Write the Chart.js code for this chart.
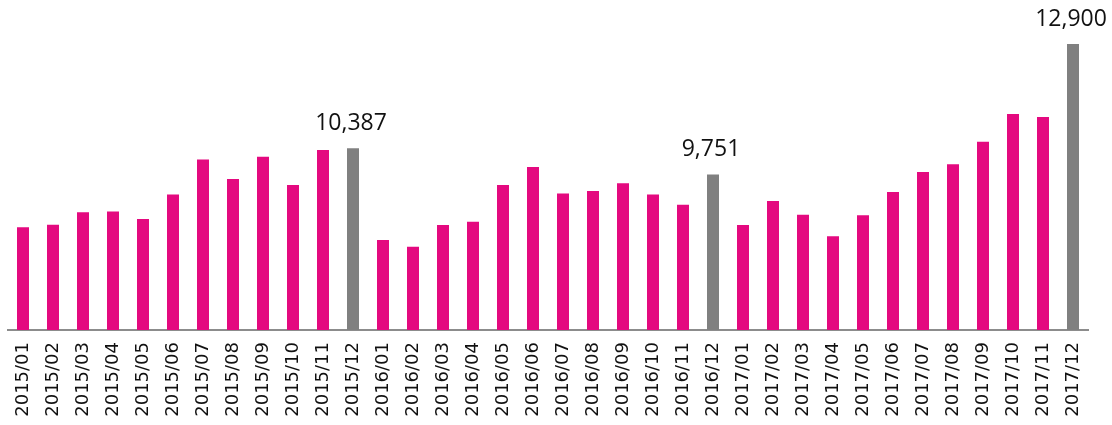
<!DOCTYPE html>
<html lang="en">
<head>
    <meta charset="UTF-8">
    <title>Monthly Bars</title>
    <script src="https://cdn.jsdelivr.net/npm/chart.js"></script>
    <style>
        html, body {
            margin: 0;
            padding: 0;
            background: white;
        }
        #wrap {
            width: 1112px;
            height: 425px;
        }
    </style>
</head>
<body>
    <div id="wrap"><canvas id="barChart"></canvas></div>
    <script>
        // months shown on the x axis
        var months = [
            '2015/01', '2015/02', '2015/03', '2015/04', '2015/05', '2015/06',
            '2015/07', '2015/08', '2015/09', '2015/10', '2015/11', '2015/12',
            '2016/01', '2016/02', '2016/03', '2016/04', '2016/05', '2016/06',
            '2016/07', '2016/08', '2016/09', '2016/10', '2016/11', '2016/12',
            '2017/01', '2017/02', '2017/03', '2017/04', '2017/05', '2017/06',
            '2017/07', '2017/08', '2017/09', '2017/10', '2017/11', '2017/12'
        ];

        // values (december values are printed)
        var values2015 = [8480, 8540, 8840, 8860, 8680, 9270, 10110, 9640, 10180, 9500, 10340, 10387];
        var values2016 = [8170, 8010, 8530, 8610, 9500, 9930, 9290, 9350, 9540, 9270, 9020, 9751];
        var values2017 = [8530, 9110, 8780, 8260, 8770, 9330, 9810, 10000, 10540, 11210, 11140, 12900];

        var values = values2015.concat(values2016, values2017);

        var pink = '#E4097F';
        var grey = '#808080';

        var barColors = months.map(function (m) {
            return m.slice(-2) === '12' ? grey : pink;
        });

        // prints the value above the december bars
        var yearEndLabels = {
            id: 'yearEndLabels',
            afterDatasetsDraw: function (chart) {
                var ctx = chart.ctx;
                var meta = chart.getDatasetMeta(0);
                ctx.save();
                ctx.font = '23px "Open Sans"';
                ctx.fillStyle = '#111';
                ctx.textAlign = 'center';
                ctx.textBaseline = 'alphabetic';
                meta.data.forEach(function (bar, i) {
                    if (months[i].slice(-2) !== '12') return;
                    ctx.fillText(values[i].toLocaleString('en-US'), bar.x - 2, bar.y - 18);
                });
                ctx.restore();
            }
        };

        new Chart(document.getElementById('barChart'), {
            type: 'bar',
            data: {
                labels: months,
                datasets: [{
                    data: values,
                    backgroundColor: barColors,
                    borderWidth: 0,
                    barPercentage: 0.4,
                    categoryPercentage: 1.0
                }]
            },
            options: {
                responsive: true,
                maintainAspectRatio: false,
                animation: false,
                layout: {
                    padding: { left: 8, right: 24, top: 0, bottom: 0 }
                },
                plugins: {
                    legend: { display: false },
                    tooltip: { enabled: false }
                },
                scales: {
                    x: {
                        grid: { display: false, drawTicks: false },
                        border: { display: true, color: '#8c8c8c', width: 2 },
                        afterFit: function (scale) { scale.height = 95; },
                        ticks: {
                            color: '#111',
                            font: { family: '"DejaVu Sans"', size: 18 },
                            minRotation: 90,
                            maxRotation: 90,
                            autoSkip: false,
                            padding: 12,
                            crossAlign: 'center'
                        }
                    },
                    y: {
                        display: false,
                        min: 6000,
                        max: 13960
                    }
                }
            },
            plugins: [yearEndLabels]
        });
    </script>
</body>
</html>
